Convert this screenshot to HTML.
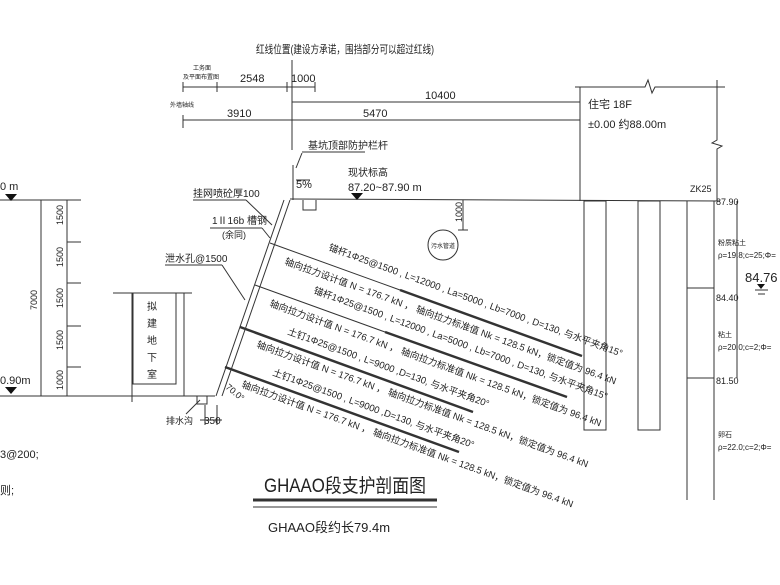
<!DOCTYPE html>
<html><head><meta charset="utf-8"><style>
html,body{margin:0;padding:0;background:#fff;width:780px;height:585px;overflow:hidden}
svg{display:block}
text{font-family:"Liberation Sans","Noto Sans CJK SC",sans-serif;fill:#222}
</style></head><body>
<svg width="780" height="585" viewBox="0 0 780 585" xmlns="http://www.w3.org/2000/svg">
<g stroke="#333" stroke-width="1" fill="none">
<line x1="0" y1="200" x2="81" y2="200"/>
<line x1="41" y1="200" x2="41" y2="396"/>
<line x1="67" y1="200" x2="67" y2="396"/>
<line x1="67" y1="242" x2="81" y2="242"/><line x1="67" y1="283" x2="81" y2="283"/>
<line x1="67" y1="326" x2="81" y2="326"/><line x1="67" y1="367" x2="81" y2="367"/>
<line x1="0" y1="396" x2="215" y2="396"/>
<line x1="113" y1="293" x2="192" y2="293"/>
<polyline points="133,293 133,384 176,384 176,293"/>
<line x1="132" y1="293" x2="132" y2="402"/>
<line x1="184" y1="293" x2="184" y2="396"/>
<polyline points="195,396 197,396 197,404 207,404 207,396"/>
<line x1="186" y1="414" x2="200" y2="400"/>
<line x1="205" y1="405" x2="205" y2="425"/><line x1="217" y1="405" x2="217" y2="425"/>
<line x1="200" y1="420" x2="222" y2="420"/>
<line x1="284" y1="200" x2="216" y2="396"/>
<line x1="290" y1="200" x2="222" y2="396"/>
<line x1="290" y1="199" x2="720" y2="201"/>
<line x1="293" y1="165" x2="293" y2="200"/>
<polyline points="303,200 303,210 316,210 316,200"/>
<line x1="296" y1="180" x2="310" y2="180"/>
<polyline points="302,153 296,168"/>
<line x1="302" y1="152" x2="365" y2="152"/>
<line x1="193" y1="200" x2="246" y2="200"/><line x1="246" y1="200" x2="272" y2="225"/>
<line x1="210" y1="228" x2="262" y2="228"/><line x1="262" y1="228" x2="270" y2="238"/>
<line x1="165" y1="265" x2="222" y2="265"/><line x1="222" y1="265" x2="245" y2="300"/>
<line x1="270" y1="243" x2="400" y2="290"/>
<line x1="400" y1="290" x2="582" y2="356" stroke-width="2.5"/>
<line x1="255" y1="285" x2="385" y2="332"/>
<line x1="385" y1="332" x2="567" y2="397" stroke-width="2.5"/>
<line x1="240" y1="327" x2="473" y2="412" stroke-width="2.5"/>
<line x1="225" y1="367" x2="459" y2="452" stroke-width="2.5"/>
<circle cx="443" cy="245" r="15"/>
<line x1="463" y1="200" x2="463" y2="230"/><line x1="458" y1="230" x2="468" y2="230"/>
<line x1="292" y1="60" x2="292" y2="150"/>
<line x1="183" y1="87" x2="315" y2="87"/>
<line x1="183" y1="82" x2="183" y2="92"/><line x1="217" y1="82" x2="217" y2="92"/>
<line x1="287" y1="82" x2="287" y2="92"/><line x1="315" y1="82" x2="315" y2="92"/>
<line x1="183" y1="120" x2="580" y2="120"/>
<line x1="183" y1="115" x2="183" y2="128"/>
<line x1="292" y1="102" x2="580" y2="102"/>
<polyline points="575,87 645,87 648,80 652,93 655,87 725,87"/>
<line x1="580" y1="87" x2="580" y2="201"/>
<polyline points="717,80 717,140 712,143 722,146 717,149 717,201"/>
<rect x="584" y="201" width="22" height="229"/>
<rect x="638" y="201" width="22" height="229"/>
<line x1="687" y1="201" x2="687" y2="500"/>
<line x1="714" y1="201" x2="714" y2="500"/>
<line x1="687" y1="288" x2="714" y2="288"/>
<line x1="687" y1="378" x2="714" y2="378"/>
<line x1="737" y1="201" x2="737" y2="378"/>
<line x1="755" y1="290" x2="768" y2="290"/><line x1="758" y1="294" x2="765" y2="294"/>
<line x1="253" y1="500" x2="437" y2="500" stroke-width="3"/>
<line x1="253" y1="507" x2="437" y2="507"/>
</g>
<g fill="#111">
<polygon points="5,194 17,194 11,201"/>
<polygon points="5,387 17,387 11,394"/>
<polygon points="351,193 363,193 357,200"/>
<polygon points="757,284 765,284 761,289"/>
</g>
<g font-size="11">
<text x="0" y="190">0 m</text>
<text x="0" y="384">0.90m</text>
<text x="0" y="458">3@200;</text>
<text x="0" y="494">则;</text>
<text x="256" y="53" font-size="11" textLength="178" lengthAdjust="spacingAndGlyphs">红线位置(建设方承诺，围挡部分可以超过红线)</text>
<text x="240" y="82">2548</text><text x="291" y="82">1000</text>
<text x="193" y="70" font-size="6">工务面</text><text x="183" y="79" font-size="6">及平面布置图</text>
<text x="170" y="107" font-size="6">外墙轴线</text>
<text x="227" y="117">3910</text><text x="363" y="117">5470</text>
<text x="425" y="99">10400</text>
<text x="308" y="149" font-size="10">基坑顶部防护栏杆</text>
<text x="296" y="188">5%</text>
<text x="348" y="176" font-size="10">现状标高</text>
<text x="348" y="191">87.20~87.90 m</text>
<text x="193" y="197" font-size="10">挂网喷砼厚100</text>
<text x="212" y="224" font-size="10">1Ⅱ16b 槽钢</text>
<text x="222" y="238" font-size="9">(余同)</text>
<text x="165" y="262" font-size="10">泄水孔@1500</text>
<text x="166" y="424" font-size="9">排水沟</text>
<text x="204" y="424" font-size="10">350</text>
<text x="431" y="248" font-size="6">污水管道</text>
<text x="588" y="108">住宅 18F</text>
<text x="588" y="128">±0.00 约88.00m</text>
<text x="690" y="192" font-size="9">ZK25</text>
<text x="716" y="205" font-size="9">87.90</text>
<text x="716" y="301" font-size="9">84.40</text>
<text x="716" y="384" font-size="9">81.50</text>
<text x="745" y="282" font-size="13" font-family="Liberation Serif">84.76</text>
<text x="718" y="245" font-size="7">粉质粘土</text>
<text x="718" y="258" font-size="8">ρ=19.8;c=25;Φ=</text>
<text x="718" y="337" font-size="7">粘土</text>
<text x="718" y="350" font-size="8">ρ=20.0;c=2;Φ=</text>
<text x="718" y="437" font-size="7">卵石</text>
<text x="718" y="450" font-size="8">ρ=22.0;c=2;Φ=</text>
<text x="264" y="492" font-size="19" textLength="162" lengthAdjust="spacingAndGlyphs">GHAAO段支护剖面图</text>
<text x="268" y="532" font-size="13">GHAAO段约长79.4m</text>
</g>
<g font-size="9">
<text transform="translate(63,225) rotate(-90)">1500</text>
<text transform="translate(63,267) rotate(-90)">1500</text>
<text transform="translate(63,308) rotate(-90)">1500</text>
<text transform="translate(63,350) rotate(-90)">1500</text>
<text transform="translate(63,390) rotate(-90)">1000</text>
<text transform="translate(37,310) rotate(-90)">7000</text>
<text transform="translate(462,222) rotate(-90)">1000</text>
<text x="147" y="310" font-size="10">拟</text><text x="147" y="327" font-size="10">建</text>
<text x="147" y="344" font-size="10">地</text><text x="147" y="361" font-size="10">下</text>
<text x="147" y="378" font-size="10">室</text>
<text transform="translate(225,388) rotate(40)" font-size="9">70.0°</text>
</g>
<g font-size="9.5">
<text transform="translate(328,250) rotate(20)">锚杆1Φ25@1500 , L=12000 , La=5000 , Lb=7000 , D=130, 与水平夹角15°</text>
<text transform="translate(284,264) rotate(20)">轴向拉力设计值 N = 176.7 kN ， 轴向拉力标准值 Nk = 128.5 kN，锁定值为 96.4 kN</text>
<text transform="translate(313,293) rotate(20)">锚杆1Φ25@1500 , L=12000 , La=5000 , Lb=7000 , D=130, 与水平夹角15°</text>
<text transform="translate(269,306) rotate(20)">轴向拉力设计值 N = 176.7 kN ， 轴向拉力标准值 Nk = 128.5 kN，锁定值为 96.4 kN</text>
<text transform="translate(287,334) rotate(20)">土钉1Φ25@1500 , L=9000 ,D=130, 与水平夹角20°</text>
<text transform="translate(256,347) rotate(20)">轴向拉力设计值 N = 176.7 kN ， 轴向拉力标准值 Nk = 128.5 kN，锁定值为 96.4 kN</text>
<text transform="translate(272,375) rotate(20)">土钉1Φ25@1500 , L=9000 ,D=130, 与水平夹角20°</text>
<text transform="translate(241,387) rotate(20)">轴向拉力设计值 N = 176.7 kN ， 轴向拉力标准值 Nk = 128.5 kN，锁定值为 96.4 kN</text>
</g>
</svg>
</body></html>
